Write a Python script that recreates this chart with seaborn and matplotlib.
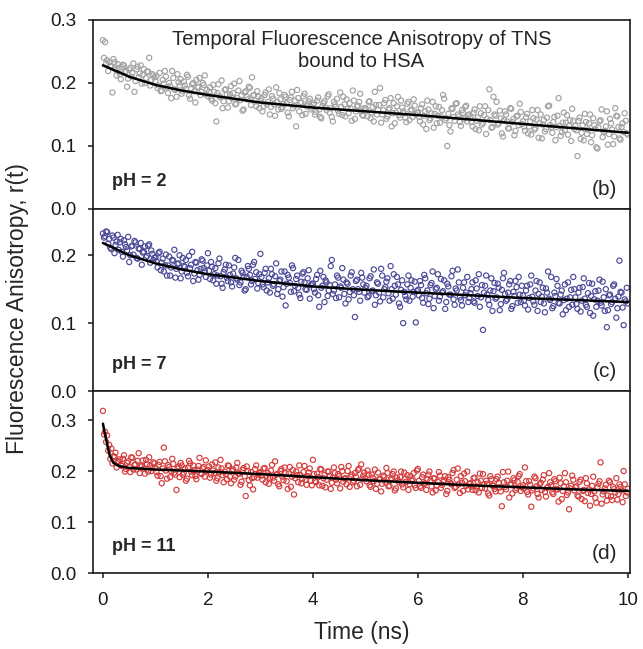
import numpy as np
import pandas as pd
import seaborn as sns
import matplotlib
matplotlib.use("Agg")
import matplotlib.pyplot as plt

# anisotropy values, in units of 1e-3
# "a" series: t = 0, 0.04, 0.08 ... 10 ns ; "b" series: t = 0.02, 0.06 ... 9.98 ns
r_ph2_a = [
    268, 265, 236, 233, 226, 238, 221, 230, 214, 225, 228, 219, 207, 224, 216, 186, 222, 209, 228, 213, 200, 218, 240, 205, 212,
    203, 192, 216, 188, 199, 210, 184, 195, 219, 190, 178, 201, 206, 187, 196, 213, 180, 191, 200, 169, 194, 208, 186, 197, 182,
    179, 193, 172, 186, 139, 198, 177, 160, 189, 182, 171, 195, 184, 166, 176, 203, 180, 158, 187, 174, 192, 209, 181, 163, 178,
    172, 155, 181, 166, 190, 162, 175, 148, 170, 184, 159, 167, 178, 153, 173, 186, 164, 131, 176, 169, 149, 183, 163, 171, 158,
    165, 150, 172, 158, 144, 168, 161, 179, 153, 146, 170, 162, 156, 185, 149, 166, 174, 152, 159, 188, 143, 163, 170, 155, 148,
    160, 147, 171, 153, 139, 165, 157, 192, 150, 168, 143, 158, 176, 152, 136, 163, 149, 172, 155, 145, 167, 141, 158, 174, 150,
    153, 139, 166, 148, 127, 158, 144, 170, 151, 136, 162, 147, 181, 141, 100, 133, 160, 146, 167, 150, 138, 157, 143, 164, 149,
    146, 131, 158, 140, 125, 152, 137, 163, 143, 190, 129, 178, 148, 134, 156, 120, 141, 150, 128, 160, 138, 117, 147, 133, 154,
    139, 124, 151, 131, 118, 144, 128, 157, 136, 112, 141, 127, 163, 133, 121, 146, 130, 176, 116, 137, 125, 149, 132, 108, 140,
    132, 84, 145, 121, 109, 138, 126, 150, 117, 133, 98, 129, 141, 114, 124, 155, 119, 136, 103, 160, 147, 112, 130, 122, 140,
    118,
]
r_ph2_b = [
    240, 231, 219, 227, 185, 233, 212, 224, 206, 229, 217, 194, 221, 210, 231, 203, 226, 215, 199, 222, 208, 218, 196, 214, 209,
    211, 196, 187, 205, 219, 193, 200, 176, 208, 189, 214, 196, 183, 202, 191, 210, 175, 198, 187, 205, 193, 181, 200, 212, 189,
    186, 175, 197, 168, 184, 179, 204, 171, 190, 161, 182, 176, 199, 167, 188, 173, 156, 185, 178, 194, 165, 180, 172, 187, 160,
    176, 163, 185, 170, 150, 179, 166, 193, 158, 174, 162, 181, 168, 147, 177, 160, 172, 189, 155, 169, 179, 151, 166, 175, 161,
    168, 154, 177, 146, 163, 171, 157, 182, 160, 139, 166, 175, 151, 162, 178, 147, 159, 168, 140, 172, 155, 164, 183, 149, 160,
    158, 170, 144, 162, 186, 150, 165, 137, 157, 173, 147, 160, 131, 168, 153, 178, 145, 161, 152, 138, 170, 156, 146, 164, 153,
    146, 160, 134, 155, 172, 141, 152, 129, 163, 148, 137, 157, 175, 144, 151, 123, 159, 140, 168, 147, 132, 153, 162, 139, 150,
    138, 153, 127, 145, 163, 134, 149, 119, 157, 141, 130, 150, 170, 136, 144, 115, 155, 139, 128, 159, 143, 124, 148, 167, 135,
    131, 146, 120, 139, 157, 126, 142, 113, 150, 134, 123, 145, 164, 130, 138, 109, 148, 132, 122, 153, 137, 118, 141, 159, 127,
    125, 140, 111, 133, 151, 119, 136, 106, 144, 127, 96, 139, 158, 122, 131, 102, 143, 126, 115, 148, 130, 110, 136, 152, 120,
]
r_ph7_a = [
    232, 228, 234, 224, 209, 226, 215, 230, 219, 205, 222, 212, 227, 200, 214, 221, 196, 210, 218, 204, 213, 199, 216, 207, 193,
    197, 182, 205, 189, 176, 201, 185, 170, 193, 208, 180, 188, 166, 196, 183, 174, 199, 186, 162, 190, 178, 171, 194, 181, 168,
    203, 165, 183, 172, 158, 188, 169, 152, 179, 167, 185, 160, 173, 196, 164, 156, 177, 168, 150, 184, 171, 162, 190, 175, 159,
    202, 157, 174, 148, 166, 180, 155, 169, 143, 162, 176, 153, 126, 171, 159, 185, 147, 165, 152, 137, 173, 160, 149, 178, 156,
    158, 145, 171, 124, 152, 168, 163, 140, 156, 193, 148, 137, 167, 154, 181, 143, 160, 135, 170, 150, 109, 164, 146, 174, 157,
    152, 138, 166, 147, 179, 141, 158, 132, 170, 150, 161, 144, 184, 136, 155, 168, 129, 149, 100, 140, 157, 133, 163, 146, 101,
    149, 162, 137, 171, 144, 128, 156, 176, 140, 152, 133, 165, 147, 121, 158, 142, 169, 135, 151, 179, 138, 126, 160, 145, 131,
    144, 160, 130, 151, 172, 138, 90, 155, 142, 127, 166, 147, 136, 158, 119, 149, 174, 133, 145, 162, 125, 140, 153, 168, 131,
    141, 126, 155, 137, 170, 132, 148, 118, 160, 139, 129, 151, 176, 134, 122, 145, 165, 130, 142, 113, 157, 136, 124, 149, 168,
    138, 121, 152, 133, 166, 127, 144, 115, 158, 135, 124, 148, 130, 161, 118, 94, 141, 128, 155, 136, 122, 192, 145, 97, 132,
    129,
]
r_ph7_b = [
    226, 235, 217, 211, 229, 203, 220, 208, 224, 198, 216, 207, 190, 213, 201, 219, 195, 209, 186, 205, 197, 214, 189, 202, 196,
    191, 203, 178, 195, 185, 170, 198, 182, 192, 167, 187, 200, 176, 184, 193, 169, 181, 205, 173, 189, 164, 180, 192, 176, 185,
    177, 190, 163, 181, 170, 195, 158, 175, 186, 162, 171, 154, 182, 166, 193, 160, 174, 148, 168, 180, 157, 186, 165, 151, 172,
    168, 153, 180, 160, 145, 172, 157, 188, 150, 164, 139, 176, 158, 167, 146, 181, 155, 170, 142, 161, 175, 150, 166, 136, 158,
    150, 165, 141, 177, 155, 131, 160, 148, 184, 143, 157, 170, 138, 152, 164, 129, 158, 146, 175, 141, 162, 150, 133, 167, 145,
    155, 140, 169, 148, 127, 160, 145, 180, 138, 153, 166, 133, 150, 172, 142, 157, 124, 163, 146, 135, 170, 152, 139, 161, 147,
    141, 156, 130, 166, 148, 136, 159, 122, 150, 172, 139, 145, 163, 131, 154, 142, 177, 127, 148, 160, 134, 152, 141, 168, 137,
    150, 132, 163, 140, 124, 156, 145, 170, 134, 148, 118, 159, 138, 152, 128, 166, 143, 135, 157, 121, 146, 162, 130, 142, 155,
    133, 148, 120, 157, 139, 127, 162, 143, 131, 152, 116, 145, 136, 168, 125, 140, 155, 129, 148, 134, 119, 160, 138, 127, 150,
    128, 145, 117, 153, 136, 124, 159, 140, 111, 147, 133, 164, 126, 138, 150, 119, 142, 131, 157, 108, 139, 146, 123, 135, 152,
]
r_ph11_a = [
    318, 277, 270, 251, 244, 229, 236, 218, 223, 210, 231, 204, 219, 198, 226, 212, 203, 235, 209, 221, 195, 214, 227, 200, 217,
    206, 191, 218, 176, 246, 201, 212, 188, 224, 197, 163, 209, 216, 193, 205, 185, 220, 199, 211, 190, 203, 226, 194, 208, 221,
    202, 187, 213, 196, 181, 207, 222, 192, 199, 184, 210, 176, 203, 189, 216, 195, 179, 206, 151, 200, 172, 186, 188, 211, 193,
    198, 183, 206, 191, 175, 201, 187, 219, 194, 170, 204, 182, 196, 165, 208, 189, 154, 199, 178, 192, 185, 210, 173, 197, 181,
    222, 180, 195, 172, 203, 186, 168, 199, 190, 177, 207, 183, 194, 166, 200, 185, 174, 210, 189, 178, 196, 170, 205, 213, 191,
    186, 201, 172, 193, 180, 165, 197, 184, 175, 189, 206, 170, 183, 194, 162, 187, 178, 199, 168, 185, 192, 174, 181, 196, 167,
    204, 170, 188, 175, 163, 193, 181, 158, 185, 172, 198, 167, 179, 190, 161, 183, 174, 202, 169, 205, 157, 177, 195, 171, 164,
    176, 163, 187, 170, 158, 181, 194, 166, 175, 152, 184, 171, 160, 189, 168, 131, 178, 164, 199, 173, 156, 182, 167, 190, 161,
    172, 207, 159, 180, 130, 166, 186, 155, 174, 163, 192, 150, 169, 178, 158, 184, 165, 140, 176, 161, 196, 153, 125, 171, 183,
    168, 152, 179, 145, 163, 186, 157, 132, 171, 160, 138, 175, 217, 154, 166, 142, 181, 150, 169, 158, 144, 174, 162, 200, 151,
    165,
]
r_ph11_b = [
    272, 257, 240, 224, 215, 228, 207, 219, 212, 224, 199, 216, 208, 227, 203, 213, 220, 196, 210, 205, 222, 199, 211, 206, 215,
    198, 212, 190, 205, 219, 185, 208, 200, 214, 193, 205, 188, 211, 197, 181, 207, 215, 192, 202, 184, 210, 196, 205, 189, 200,
    209, 193, 201, 217, 186, 198, 205, 178, 194, 211, 189, 200, 183, 207, 195, 173, 202, 190, 209, 182, 198, 164, 204, 187, 196,
    191, 205, 178, 196, 187, 212, 181, 193, 174, 200, 189, 207, 180, 195, 169, 202, 186, 192, 211, 176, 198, 183, 190, 205, 172,
    194, 178, 188, 204, 171, 192, 183, 199, 165, 187, 196, 176, 190, 208, 179, 186, 200, 169, 193, 181, 189, 202, 173, 185, 197,
    180, 193, 169, 187, 203, 175, 184, 160, 191, 178, 196, 171, 186, 199, 166, 182, 188, 174, 197, 179, 163, 190, 184, 172, 201,
    181, 167, 193, 176, 184, 199, 170, 186, 162, 179, 191, 173, 182, 155, 188, 176, 196, 167, 183, 174, 190, 161, 180, 199, 175,
    170, 186, 162, 178, 195, 167, 174, 181, 156, 190, 172, 165, 184, 177, 160, 198, 169, 181, 148, 175, 186, 163, 179, 194, 168,
    166, 180, 154, 173, 162, 189, 170, 148, 177, 183, 159, 167, 196, 172, 155, 180, 164, 187, 145, 170, 178, 158, 166, 191, 162,
    170, 150, 183, 161, 141, 176, 164, 155, 189, 147, 168, 180, 136, 160, 173, 152, 178, 143, 165, 186, 155, 169, 139, 174, 158,
]

# fitted curves, read at a few times (ns)
fit_t_ph2 = [0, 0.5, 1, 1.5, 2, 3, 4, 5, 6, 7, 8, 9, 10]
fit_r_ph2 = [0.228, 0.210, 0.197, 0.188, 0.181, 0.169, 0.161, 0.155, 0.149, 0.142, 0.135, 0.128, 0.121]
fit_t_ph7 = [0, 0.5, 1, 1.5, 2, 3, 4, 5, 6, 7, 8, 9, 10]
fit_r_ph7 = [0.218, 0.200, 0.188, 0.179, 0.172, 0.162, 0.154, 0.149, 0.145, 0.141, 0.137, 0.134, 0.131]
fit_t_ph11 = [0, 0.04, 0.07, 0.1, 0.13, 0.2, 0.3, 0.5, 1, 2, 3, 4, 5, 6, 7, 8, 9, 10]
fit_r_ph11 = [0.293, 0.272, 0.258, 0.243, 0.230, 0.216, 0.210, 0.206, 0.203, 0.199, 0.194, 0.188, 0.182, 0.177, 0.172, 0.168, 0.164, 0.161]

dt = 0.04

panels = [
    ("pH = 2", "(b)", r_ph2_a, r_ph2_b, fit_t_ph2, fit_r_ph2, "#a2a2a2", 0.30, [0.0, 0.1, 0.2, 0.3]),
    ("pH = 7", "(c)", r_ph7_a, r_ph7_b, fit_t_ph7, fit_r_ph7, "#4a4a98", 0.268, [0.0, 0.1, 0.2]),
    ("pH = 11", "(d)", r_ph11_a, r_ph11_b, fit_t_ph11, fit_r_ph11, "#d43c3c", 0.357, [0.0, 0.1, 0.2, 0.3]),
]

sns.set_theme(style="white")
plt.rcParams["font.family"] = ["Liberation Sans", "DejaVu Sans"]

fig = plt.figure(figsize=(6.43, 6.49), dpi=100)
boxes = [
    [0.1446, 0.678, 0.8351, 0.2912],
    [0.1446, 0.3975, 0.8351, 0.2804],
    [0.1446, 0.1171, 0.8351, 0.2804],
]

for i, (ph, tag, va_, vb_, ft, fr, col, ytop, yt) in enumerate(panels):
    ax = fig.add_axes(boxes[i])
    t = np.concatenate([np.arange(len(va_)) * dt, np.arange(len(vb_)) * dt + dt / 2])
    df = pd.DataFrame({"t": t, "r": np.array(va_ + vb_) / 1000.0})
    sns.scatterplot(data=df, x="t", y="r", ax=ax, s=14, color=col, facecolors="none",
                    edgecolor=col, linewidth=0.85, zorder=2)
    sns.lineplot(x=ft, y=fr, ax=ax, color="black", lw=1.8, zorder=3)
    ax.set_xlim(-0.19, 10.04)
    ax.set_ylim(0, ytop)
    ax.set_yticks(yt)
    ax.set_yticklabels([f"{v:.1f}" for v in yt])
    ax.set_xlabel("")
    ax.set_ylabel("")
    for sp in ax.spines.values():
        sp.set_color("#1a1a1a")
        sp.set_linewidth(1.2)
    ax.tick_params(axis="y", direction="out", length=3.6, width=1.1, labelsize=13.5,
                   left=True, pad=8, colors="#1a1a1a")
    if i == 2:
        ax.set_xticks([0, 2, 4, 6, 8, 10])
        ax.tick_params(axis="x", direction="out", length=3.6, width=1.1, labelsize=13.5,
                       bottom=True, pad=10, colors="#1a1a1a")
    else:
        ax.set_xticks([])
    ax.text(0.035, 0.145, ph, transform=ax.transAxes, fontsize=13, fontweight="bold",
            ha="left", va="center")
    ax.text(0.976, 0.105, tag, transform=ax.transAxes, fontsize=15, ha="right", va="center")
    if i == 0:
        ax.text(0.5, 0.84, "Temporal Fluorescence Anisotropy of TNS\nbound to HSA",
                transform=ax.transAxes, fontsize=14.6, ha="center", va="center",
                linespacing=1.2)

fig.text(18 / 643, 1 - 309 / 649, "Fluorescence Anisotropy, r(t)", rotation=90,
         fontsize=16.5, ha="center", va="center")
fig.text(362 / 643, 1 - 632 / 649, "Time (ns)", fontsize=16.5, ha="center", va="center")

fig.savefig("out.png", dpi=100)
